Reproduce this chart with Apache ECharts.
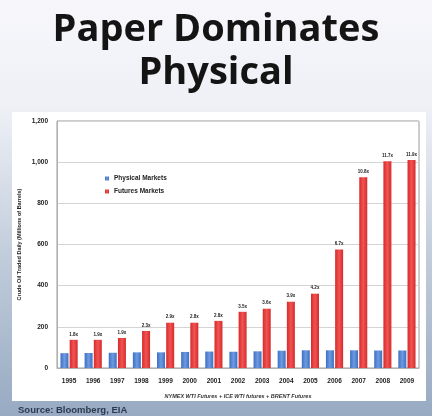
<!DOCTYPE html>
<html>
<head>
<meta charset="utf-8">
<script src="https://cdn.jsdelivr.net/npm/echarts@6/dist/echarts.min.js"></script>
<style>
  html, body { margin: 0; padding: 0; }
  #chart { width: 432px; height: 416px; }
</style>
</head>
<body>
<div id="chart"></div>
<script>
const years = ["1995", "1996", "1997", "1998", "1999", "2000", "2001", "2002", "2003", "2004", "2005", "2006", "2007", "2008", "2009"];
const physical = [72, 73, 74, 76, 76, 78, 80, 79, 81, 84, 86, 86, 86, 85, 85];
const futures = [137, 137, 146, 180, 220, 220, 229, 273, 288, 322, 361, 576, 927, 1005, 1010];
const ratioLabels = ["1.8x", "1.9x", "1.9x", "2.3x", "2.9x", "2.8x", "2.8x", "3.5x", "3.6x", "3.9x", "4.2x", "6.7x", "10.8x", "11.7x", "11.9x"];
const yTicks = [0, 200, 400, 600, 800, 1000, 1200];

const chart = echarts.init(document.getElementById("chart"), null, { renderer: "canvas" });

chart.setOption({
  animation: false,
  backgroundColor: new echarts.graphic.LinearGradient(0, 0, 0, 1, [
    { offset: 0, color: "#f7f7fb" },
    { offset: 0.26, color: "#eef0f6" },
    { offset: 0.6, color: "#c3cedc" },
    { offset: 1, color: "#97aac2" },
  ]),
  title: {
    text: "Paper Dominates\nPhysical",
    left: "center",
    top: 4,
    textStyle: {
      fontFamily: "Open Sans",
      fontWeight: "bold",
      fontSize: 38,
      lineHeight: 43,
      color: "#141414",
    },
  },
  graphic: [
    {
      type: "rect",
      z: -1,
      shape: { x: 12, y: 112, width: 414, height: 289 },
      style: { fill: "#ffffff" },
    },
    {
      type: "text",
      left: 18,
      top: 405,
      style: {
        text: "Source: Bloomberg, EIA",
        fill: "#2b3a4f",
        font: "bold 9.5px 'Liberation Sans'",
      },
    },
  ],
  legend: {
    orient: "vertical",
    left: 100,
    top: 170,
    itemWidth: 4,
    itemHeight: 4,
    itemGap: 6,
    icon: "rect",
    textStyle: { fontSize: 6.5, fontWeight: "bold", color: "#222", fontFamily: "Liberation Sans" },
    data: ["Physical Markets", "Futures Markets"],
  },
  grid: {
    left: 57,
    right: 13,
    top: 121,
    bottom: 48,
    show: true,
    borderColor: "#9a9a9a",
    borderWidth: 1,
    backgroundColor: "#ffffff",
  },
  xAxis: {
    type: "category",
    data: years,
    name: "NYMEX WTI Futures + ICE WTI futures + BRENT Futures",
    nameLocation: "middle",
    nameGap: 25,
    nameTextStyle: { fontSize: 5.5, fontStyle: "italic", fontWeight: "bold", color: "#333", fontFamily: "Liberation Sans" },
    axisLine: { lineStyle: { color: "#b0b0b0" } },
    axisTick: { show: false },
    axisLabel: { fontSize: 6.5, fontWeight: "bold", color: "#222", margin: 10, fontFamily: "Liberation Sans" },
  },
  yAxis: {
    type: "value",
    min: yTicks[0],
    max: yTicks[yTicks.length - 1],
    interval: 200,
    name: "Crude Oil Traded Daily (Millions of Barrels)",
    nameLocation: "middle",
    nameGap: 35,
    nameMoveOverlap: false,
    nameTextStyle: { fontSize: 5.5, fontWeight: "bold", color: "#222", fontFamily: "Liberation Sans" },
    axisLine: { show: true, lineStyle: { color: "#b0b0b0" } },
    axisTick: { show: false },
    axisLabel: {
      fontSize: 6.5,
      fontWeight: "bold",
      color: "#222",
      margin: 9,
      fontFamily: "Liberation Sans",
      formatter: (v) => v.toLocaleString("en-US"),
    },
    splitLine: { lineStyle: { color: "#d4d4d4" } },
  },
  series: [
    {
      name: "Physical Markets",
      type: "bar",
      data: physical,
      barWidth: 8,
      barGap: "15%",
      itemStyle: {
        color: new echarts.graphic.LinearGradient(0, 0, 1, 0, [
          { offset: 0, color: "#3d6fc4" },
          { offset: 0.5, color: "#6d9be0" },
          { offset: 1, color: "#3d6fc4" },
        ]),
      },
    },
    {
      name: "Futures Markets",
      type: "bar",
      data: futures,
      barWidth: 8,
      itemStyle: {
        color: new echarts.graphic.LinearGradient(0, 0, 1, 0, [
          { offset: 0, color: "#d72a2a" },
          { offset: 0.5, color: "#f05454" },
          { offset: 1, color: "#d72a2a" },
        ]),
      },
      label: {
        show: true,
        position: "top",
        distance: 3,
        fontSize: 4.5,
        fontWeight: "bold",
        color: "#222",
        fontFamily: "Liberation Sans",
        formatter: (p) => ratioLabels[p.dataIndex],
      },
    },
  ],
});
</script>
</body>
</html>
